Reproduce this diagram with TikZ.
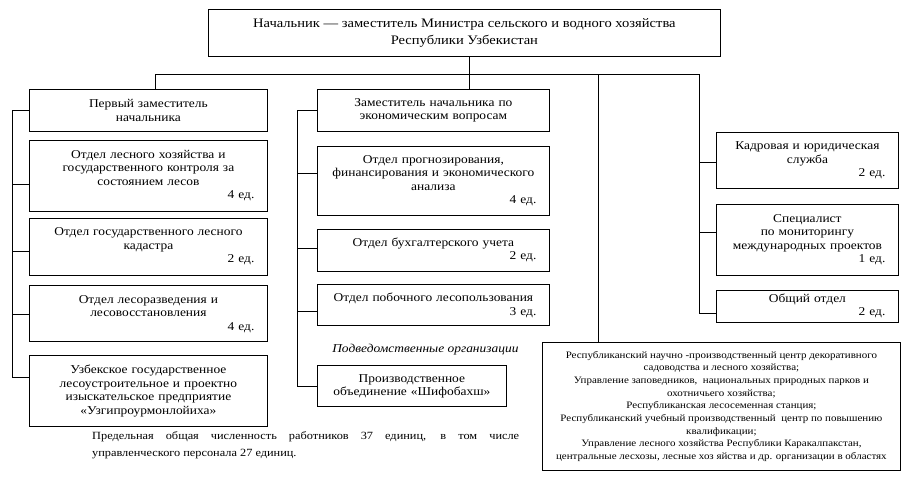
\documentclass[tikz,border=0pt]{standalone}
\usepackage{fontspec}
\setmainfont[FakeStretch=1.12]{Liberation Serif}
\usetikzlibrary{positioning}

\tikzset{
  unitbox/.style={draw, line width=0.8pt, align=center, inner xsep=13pt, inner ysep=3pt, font=\fontsize{12}{13.5}\selectfont},
  lbox/.style={unitbox, text width=212pt},
  mbox/.style={unitbox, text width=206pt},
  rbox/.style={unitbox, text width=156pt},
  link/.style={line width=0.8pt},
}
\newcommand{\staff}[1]{\\\hspace*{\fill}#1~ед.}

\begin{document}
\begin{tikzpicture}[x=1pt, y=-1pt]
\useasboundingbox (0,0) rectangle (919,496);

\node[draw, line width=0.8pt, anchor=north west, minimum width=512pt, minimum height=47pt, align=center, font=\fontsize{13}{16.5}\selectfont] (head) at (208,9) {Начальник --- заместитель Министра сельского и водного хозяйства\\Республики Узбекистан};

% left column
\node[lbox, anchor=north west, minimum height=42pt] (L1) at (29,89) {Первый заместитель\\начальника};
\node[lbox, below=8pt of L1, minimum height=71pt] (L2) {Отдел лесного хозяйства и\\государственного контроля за\\состоянием лесов\staff{4}};
\node[lbox, below=6pt of L2, minimum height=57pt] (L3) {Отдел государственного лесного\\кадастра\staff{2}};
\node[lbox, below=10pt of L3, minimum height=56pt] (L4) {Отдел лесоразведения и\\лесовосстановления\staff{4}};
\node[lbox, below=13pt of L4, minimum height=71pt] (L5) {Узбекское государственное\\лесоустроительное и проектно\\изыскательское предприятие\\«Узгипроурмонлойиха»};

% middle column
\node[mbox, anchor=north west, minimum height=42pt] (M1) at (317,89) {Заместитель начальника по\\экономическим вопросам};
\node[mbox, below=14pt of M1, minimum height=69pt] (M2) {Отдел прогнозирования,\\финансирования и экономического\\анализа\staff{4}};
\node[mbox, below=13pt of M2, minimum height=42pt] (M3) {Отдел бухгалтерского учета\staff{2}};
\node[mbox, below=13pt of M3, minimum height=41pt] (M4) {Отдел побочного лесопользования\staff{3}};
\node[font=\itshape\fontsize{12}{14}\selectfont, below=14pt of M4, xshift=-8pt] (sub) {Подведомственные организации};
\node[unitbox, text width=163pt, below=39pt of M4.south west, anchor=north west, minimum height=41pt] (M5) {Производственное\\объединение «Шифобахш»};

% right column
\node[rbox, anchor=north west, minimum height=56pt] (R1) at (716,132) {Кадровая и юридическая\\служба\staff{2}};
\node[rbox, below=15pt of R1, minimum height=71pt] (R2) {Специалист\\по мониторингу\\международных проектов\staff{1}};
\node[rbox, below=14pt of R2, minimum height=32pt] (R3) {Общий отдел\staff{2}};

\node[draw, line width=0.8pt, anchor=north west, minimum width=358pt, minimum height=128pt, inner sep=2pt, align=center, font=\fontsize{9.8}{12.7}\selectfont] (orgs) at (542,342) {Республиканский научно -производственный центр декоративного\\садоводства и лесного хозяйства;\\Управление заповедников,~ национальных природных парков и\\охотничьего хозяйства;\\Республиканская лесосеменная станция;\\Республиканский учебный производственный~ центр по повышению\\квалификации;\\Управление лесного хозяйства Республики Каракалпакстан,\\центральные лесхозы, лесные хоз яйства и др. организации в областях};

\node[anchor=north west, text width=427pt, align=justify, inner sep=0pt, font=\fontsize{11}{17}\selectfont] (note) at (92,431) {Предельная общая численность работников 37 единиц, в том числе\linebreak управленческого персонала 27 единиц.};

% connectors
\coordinate (busL) at (155,74);
\coordinate (busB) at (598,74);
\coordinate (busR) at (699,74);
\coordinate (lbar) at (12,0);
\coordinate (mbar) at (297,0);

\draw[link] ([xshift=5pt]head.south) -- ([xshift=5pt]head.south |- M1.north);
\draw[link] (busL |- L1.north) -- (busL) -- (busR) -- ([yshift=-7pt]busR |- R3.west);
\draw[link] (busB) -- (busB |- orgs.north);

\draw[link] (lbar |- L1.west) -- ([yshift=13.5pt]lbar |- L5.west);
\foreach \n/\d in {L1/0, L2/-8.5, L3/-4.5, L4/-1, L5/13.5}
  \draw[link] ([yshift=\d pt]\n.west) -- ([yshift=\d pt]lbar |- \n.west);

\draw[link] (mbar |- M1.west) -- (mbar |- M5.west);
\foreach \n/\d in {M1/0, M2/7.5, M3/2, M4/-6.5, M5/0}
  \draw[link] ([yshift=\d pt]\n.west) -- ([yshift=\d pt]mbar |- \n.west);

\foreach \n/\d in {R1/-2, R2/7.5, R3/-7}
  \draw[link] ([yshift=\d pt]\n.west) -- ([yshift=\d pt]busR |- \n.west);
\end{tikzpicture}
\end{document}
